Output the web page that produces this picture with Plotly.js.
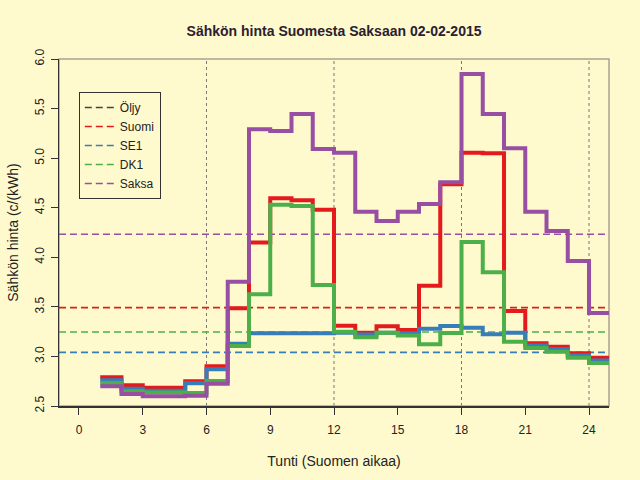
<!DOCTYPE html>
<html>
<head>
<meta charset="utf-8">
<script src="https://cdn.plot.ly/plotly-3.0.1.min.js"></script>
<style>
  html, body { margin: 0; padding: 0; background: #FFFACD; }
</style>
</head>
<body>
<div id="chart" style="width:640px;height:480px;"></div>
<script>
// hours 1..24 (Finnish time), c/kWh
var hours = [1, 2, 3, 4, 5, 6, 7, 8, 9, 10, 11, 12, 13, 14, 15, 16, 17, 18, 19, 20, 21, 22, 23, 24];
var suomi = [2.79, 2.71, 2.685, 2.685, 2.75, 2.90, 3.485, 4.15, 4.595, 4.575, 4.48, 3.31,
             3.24, 3.304, 3.266, 3.713, 4.736, 5.055, 5.05, 3.458, 3.132, 3.098, 3.031, 2.987];
var se1 = [2.76, 2.675, 2.655, 2.655, 2.729, 2.87, 3.128, 3.233, 3.233, 3.235, 3.235, 3.24,
           3.22, 3.24, 3.235, 3.28, 3.307, 3.29, 3.223, 3.24, 3.11, 3.072, 3.01, 2.96];
var dk1 = [2.732, 2.648, 2.635, 2.635, 2.631, 2.752, 3.105, 3.626, 4.53, 4.517, 3.72, 3.25,
           3.193, 3.24, 3.21, 3.122, 3.236, 4.154, 3.848, 3.149, 3.085, 3.048, 2.987, 2.934];
var saksa = [2.70, 2.62, 2.598, 2.598, 2.604, 2.725, 3.754, 5.291, 5.274, 5.445, 5.092, 5.055,
             4.46, 4.366, 4.46, 4.537, 4.756, 5.849, 5.445, 5.099, 4.46, 4.265, 3.962, 3.438];

// daily averages (dashed lines); oil is off the scale
var names = ['Öljy', 'Suomi', 'SE1', 'DK1', 'Saksa'];
var averages = [null, 3.492, 3.041, 3.246, 4.232];
var colors = ['#444444', '#E41A1C', '#377EB8', '#4DAF4A', '#984EA3'];
var series = [null, suomi, se1, dk1, saksa];

var xTicks = [0, 3, 6, 9, 12, 15, 18, 21, 24];
var guideHours = [6, 12, 18, 24];
var xRange = [-0.94, 24.94];

var traces = [];

// average lines, these carry the legend
names.forEach(function (name, i) {
    traces.push({
        x: xRange,
        y: [averages[i], averages[i]],
        mode: 'lines',
        name: name,
        line: {color: colors[i], width: 1.6, dash: '7px,4px'},
        hoverinfo: 'skip'
    });
});

// hourly step lines
var stepX = hours.concat([hours[hours.length - 1] + 1]);
series.forEach(function (vals, i) {
    if (!vals) return;
    traces.push({
        x: stepX,
        y: vals.concat([vals[vals.length - 1]]),
        mode: 'lines',
        name: names[i],
        showlegend: false,
        line: {color: colors[i], width: 4, shape: 'hv'}
    });
});

var shapes = guideHours.map(function (h) {
    return {
        type: 'line', xref: 'x', yref: 'paper',
        x0: h, x1: h, y0: 0, y1: 1,
        line: {color: '#777777', width: 1, dash: 'dot'},
        layer: 'below'
    };
});
shapes.push({
    type: 'rect', xref: 'paper', yref: 'paper',
    x0: 0, x1: 1, y0: 0, y1: 1,
    line: {color: '#A8A290', width: 1.5},
    layer: 'below'
});

var layout = {
    width: 640,
    height: 480,
    paper_bgcolor: '#FFFACD',
    plot_bgcolor: '#FFFACD',
    font: {family: 'Liberation Sans, Arial, sans-serif', size: 12, color: '#222222'},
    margin: {l: 59, r: 31, t: 59, b: 74, pad: 0},
    title: {
        text: '<b>Sähkön hinta Suomesta Saksaan 02-02-2015</b>',
        font: {size: 14, color: '#2a2030'},
        x: 0.522, xanchor: 'center', y: 0.935, yanchor: 'middle'
    },
    xaxis: {
        range: xRange,
        tickvals: xTicks,
        ticktext: xTicks.map(String),
        ticks: 'outside', ticklen: 7, tickcolor: '#333333',
        ticklabelstandoff: 5,
        showgrid: false, zeroline: false,
        showline: true, linecolor: '#333333', linewidth: 1.5,
        title: {text: 'Tunti (Suomen aikaa)', standoff: 20}
    },
    yaxis: {
        range: [2.5, 6.0],
        dtick: 0.5, tick0: 2.5,
        tickformat: '.1f',
        tickangle: -90,
        ticks: 'outside', ticklen: 7, tickcolor: '#333333',
        ticklabelstandoff: 2,
        showgrid: false, zeroline: false,
        showline: true, linecolor: '#333333', linewidth: 1.5,
        title: {text: 'Sähkön hinta (c/(kWh)', standoff: 11}
    },
    legend: {
        x: 0.036, y: 0.905, xanchor: 'left', yanchor: 'top',
        bgcolor: 'rgba(0,0,0,0)',
        bordercolor: '#333333', borderwidth: 1,
        font: {size: 12},
        tracegroupgap: 0
    },
    shapes: shapes,
    showlegend: true
};

Plotly.newPlot('chart', traces, layout, {displayModeBar: false, staticPlot: true});
</script>
</body>
</html>
